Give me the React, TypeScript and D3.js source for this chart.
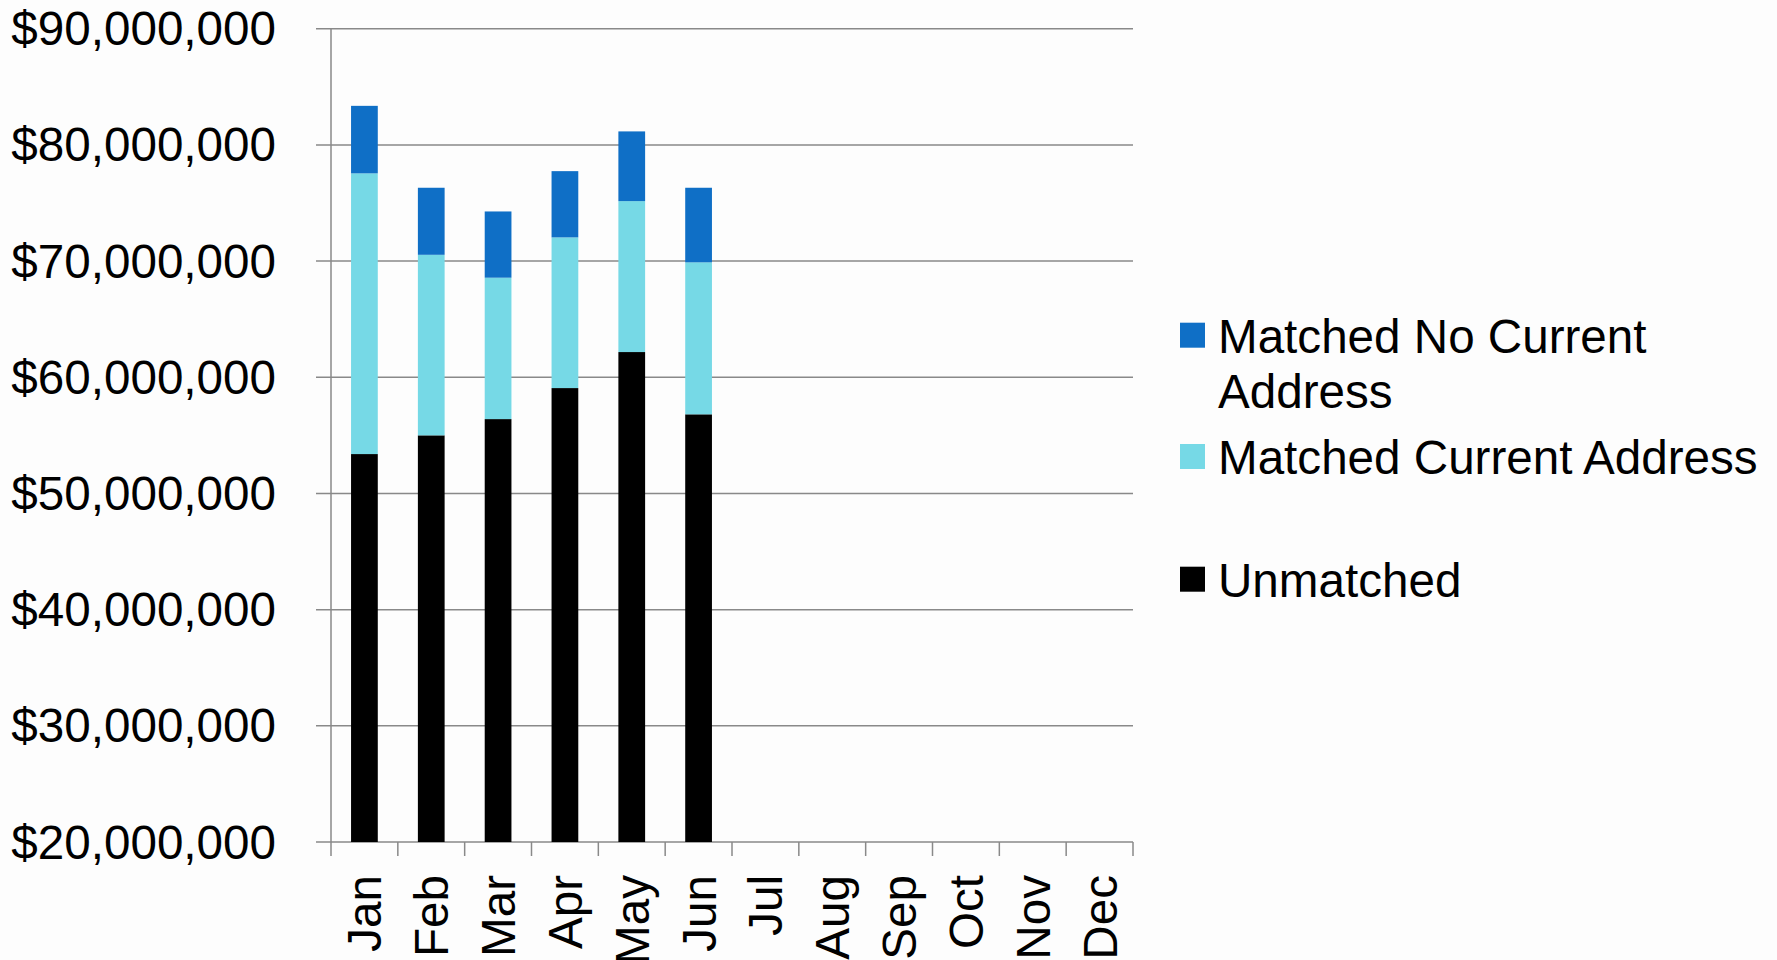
import React from "react";
import * as d3 from "d3";

const months = ["Jan", "Feb", "Mar", "Apr", "May", "Jun", "Jul", "Aug", "Sep", "Oct", "Nov", "Dec"];
const unmatched = [53.39, 55.0, 56.4, 59.07, 62.17, 56.81];
const matchedCurrent = [24.16, 15.54, 12.17, 12.97, 12.99, 13.08];
const matchedNoCurrent = [5.81, 5.77, 5.7, 5.7, 6.0, 6.42];
const yTicks = [20, 30, 40, 50, 60, 70, 80, 90];
const seriesNames = ["Unmatched", "Matched Current Address", "Matched No Current Address"];
const seriesColors = ["#000000", "#76D9E6", "#0F6FC6"];

const W = 1777;
const H = 960;
const FONT = "'Liberation Sans', Arial, sans-serif";
const FS = 47.6;

export default function App() {
  const left = 331;
  const right = 1133;
  const top = 28.7;
  const bottom = 842;

  const x = d3.scaleBand<string>().domain(months).range([left, right]).paddingInner(0.6).paddingOuter(0.3);
  const y = d3.scaleLinear().domain([20, 90]).range([bottom, top]).clamp(true);
  const step = x.step();

  const rows = unmatched.map((u, i) => ({
    month: months[i],
    s0: u,
    s1: matchedCurrent[i],
    s2: matchedNoCurrent[i],
  }));
  const stack = d3.stack<any>().keys(["s0", "s1", "s2"]);
  const stacked = stack(rows);

  const fmt = (v: number) => "$" + d3.format(",")(v * 1000000);

  const legendItems = [
    { name: ["Matched No Current", "Address"], color: seriesColors[2], base: 352.7 },
    { name: ["Matched Current Address"], color: seriesColors[1], base: 474 },
    { name: ["Unmatched"], color: seriesColors[0], base: 596.7 },
  ];

  return (
    <div style={{ position: "absolute", left: 0, top: 0, width: W, height: H, background: "#fdfdfd" }}>
      <svg width={W} height={H} style={{ display: "block" }} fontFamily={FONT}>
        <rect x={0} y={0} width={W} height={H} fill="#fdfdfd" />
        {yTicks.map((t) => (
          <line key={"g" + t} x1={316} x2={right} y1={y(t)} y2={y(t)} stroke="#898989" strokeWidth={1.5} />
        ))}
        <line x1={left} x2={left} y1={top} y2={bottom} stroke="#898989" strokeWidth={1.5} />
        {d3.range(months.length + 1).map((i) => (
          <line
            key={"xt" + i}
            x1={left + i * step}
            x2={left + i * step}
            y1={bottom}
            y2={bottom + 14}
            stroke="#898989"
            strokeWidth={1.5}
          />
        ))}
        {stacked.map((layer, si) => (
          <g key={"s" + si} fill={seriesColors[si]}>
            {layer.map((d: any, i: number) => (
              <rect
                key={i}
                x={x(d.data.month)}
                width={x.bandwidth()}
                y={y(d[1])}
                height={Math.max(0, y(d[0]) - y(d[1]))}
              />
            ))}
          </g>
        ))}
        {yTicks.map((t) => (
          <text key={"yl" + t} x={276} y={y(t) + 16.5} textAnchor="end" fontSize={FS} fill="#000">
            {fmt(t)}
          </text>
        ))}
        {months.map((m) => {
          const cx = (x(m) as number) + x.bandwidth() / 2;
          return (
            <text
              key={"xl" + m}
              transform={`translate(${cx + 17},${875}) rotate(-90)`}
              textAnchor="end"
              fontSize={FS}
              fill="#000"
            >
              {m}
            </text>
          );
        })}
        {legendItems.map((it, k) => (
          <g key={"lg" + k}>
            <rect x={1180} y={it.base - 30} width={25} height={25} fill={it.color} />
            {it.name.map((ln, j) => (
              <text key={j} x={1218} y={it.base + j * 55.6} fontSize={FS} fill="#000">
                {ln}
              </text>
            ))}
          </g>
        ))}
      </svg>
    </div>
  );
}
